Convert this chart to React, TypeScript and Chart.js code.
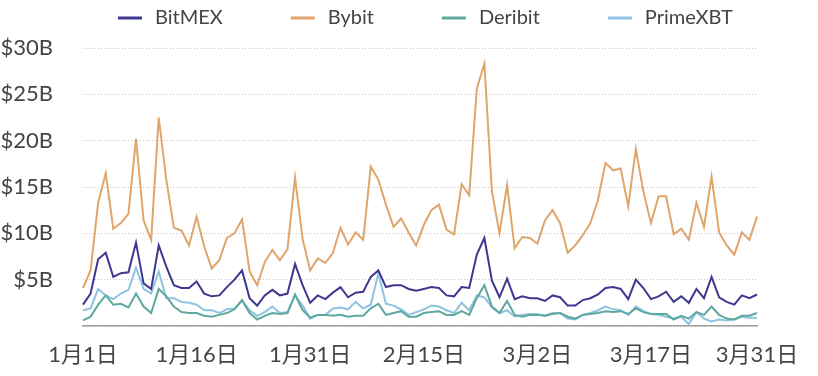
import React, { useEffect, useRef } from 'react';
import { Chart, registerables } from 'chart.js';

Chart.register(...registerables);

// Categories: daily dates, Jan 1 – Mar 31
const monthDays: [number, number][] = [[1, 31], [2, 28], [3, 31]];
const dates: string[] = [];
for (const [m, n] of monthDays) for (let d = 1; d <= n; d++) dates.push(`${m}月${d}日`);

// Shown tick labels
const shownTicks = ['1月1日', '1月16日', '1月31日', '2月15日', '3月2日', '3月17日', '3月31日'];

// Y axis ticks (billions USD)
const yTicks = [5, 10, 15, 20, 25, 30];

const seriesNames = ['BitMEX', 'Bybit', 'Deribit', 'PrimeXBT'];

const bitmex = [
  2.3, 3.5, 7.2, 7.9, 5.3, 5.7, 5.8, 9.0, 4.6, 4.0,
  8.7, 6.4, 4.4, 4.1, 4.1, 4.8, 3.5, 3.2, 3.3, 4.2,
  5.0, 6.0, 3.0, 2.2, 3.3, 3.9, 3.3, 3.5, 6.7, 4.4,
  2.5, 3.3, 2.9, 3.6, 4.2, 3.1, 3.6, 3.7, 5.3, 6.0,
  4.2, 4.4, 4.4, 4.0, 3.8, 4.0, 4.2, 4.1, 3.3, 3.2,
  4.2, 4.1, 7.7, 9.5, 4.9, 3.1, 5.1, 2.9, 3.2, 3.0,
  3.0, 2.7, 3.3, 3.1, 2.2, 2.2, 2.8, 3.0, 3.4, 4.1,
  4.2, 4.0, 2.9, 5.0, 4.1, 2.9, 3.2, 3.7, 2.6, 3.2,
  2.5, 4.0, 3.0, 5.3, 3.1, 2.6, 2.3, 3.3, 3.0, 3.4,
];

const bybit = [
  4.1, 6.0, 13.3, 16.5, 10.5, 11.1, 12.1, 20.2, 11.4, 9.3,
  22.5, 15.8, 10.6, 10.3, 8.7, 11.8, 8.6, 6.2, 7.1, 9.5,
  10.0, 11.5, 5.9, 4.4, 6.9, 8.2, 7.1, 8.3, 16.0, 9.4,
  6.0, 7.3, 6.8, 7.9, 10.6, 8.8, 10.1, 9.3, 17.2, 15.8,
  13.1, 10.7, 11.6, 10.1, 8.7, 10.9, 12.5, 13.1, 10.4, 9.9,
  15.3, 14.1, 25.6, 28.3, 14.5, 10.0, 15.2, 8.4, 9.6, 9.5,
  8.9, 11.4, 12.5, 11.1, 7.9, 8.7, 9.8, 11.1, 13.6, 17.6,
  16.8, 17.0, 12.9, 19.1, 14.5, 11.1, 14.0, 14.0, 9.9, 10.5,
  9.3, 13.3, 10.7, 16.1, 10.1, 8.7, 7.7, 10.1, 9.3, 11.8,
];

const deribit = [
  0.6, 1.0, 2.3, 3.3, 2.3, 2.4, 2.0, 3.5, 2.1, 1.4,
  4.0, 3.2, 2.1, 1.5, 1.4, 1.4, 1.1, 1.0, 1.2, 1.4,
  1.8, 2.8, 1.4, 0.7, 1.1, 1.4, 1.3, 1.4, 3.4, 1.7,
  0.9, 1.2, 1.2, 1.1, 1.2, 1.0, 1.1, 1.1, 1.9, 2.4,
  1.2, 1.4, 1.6, 1.0, 1.0, 1.4, 1.5, 1.6, 1.2, 1.2,
  1.6, 1.2, 3.0, 4.4, 2.1, 1.4, 2.7, 1.2, 1.0, 1.2,
  1.2, 1.1, 1.3, 1.4, 1.0, 0.8, 1.2, 1.3, 1.4, 1.6,
  1.5, 1.6, 1.3, 1.9, 1.5, 1.3, 1.3, 1.3, 0.7, 1.1,
  0.8, 1.5, 1.2, 2.1, 1.2, 0.8, 0.7, 1.1, 1.1, 1.4,
];

const primexbt = [
  1.7, 1.9, 4.0, 3.3, 2.9, 3.5, 3.9, 6.3, 4.0, 3.5,
  5.9, 3.0, 3.0, 2.6, 2.5, 2.3, 1.7, 1.7, 1.4, 1.8,
  1.9, 2.7, 1.7, 1.1, 1.5, 2.1, 1.4, 1.5, 3.3, 2.2,
  0.8, 1.2, 1.2, 1.9, 2.0, 1.8, 2.6, 1.9, 2.3, 5.7,
  2.4, 2.2, 1.8, 1.2, 1.5, 1.8, 2.2, 2.1, 1.7, 1.4,
  2.5, 1.7, 3.3, 3.1, 2.0, 1.4, 1.7, 1.0, 1.2, 1.3,
  1.3, 1.1, 1.4, 1.4, 0.8, 0.7, 1.2, 1.4, 1.7, 2.1,
  1.8, 1.7, 1.2, 2.1, 1.6, 1.3, 1.2, 1.0, 0.8, 1.0,
  0.2, 1.5, 0.8, 0.5, 0.7, 0.6, 0.7, 1.0, 0.9, 0.9,
];

const seriesValues = [bitmex, bybit, deribit, primexbt];
const seriesColors = ['#3d3790', '#dfa56c', '#5ea89f', '#8fc3e3'];

const FONT = 'Lato, "Noto Sans CJK SC", sans-serif';
const TEXT = '#444444';

const topLegend = {
  id: 'topLegend',
  afterDraw(chart: any) {
    const ctx = chart.ctx;
    ctx.save();
    ctx.font = `20px ${FONT}`;
    ctx.textBaseline = 'middle';
    ctx.textAlign = 'left';
    let x = chart.chartArea.left + 35;
    const y = 18;
    chart.data.datasets.forEach((ds: any) => {
      ctx.strokeStyle = ds.borderColor;
      ctx.lineWidth = 3;
      ctx.beginPath();
      ctx.moveTo(x, y);
      ctx.lineTo(x + 24, y);
      ctx.stroke();
      x += 24 + 13;
      ctx.fillStyle = TEXT;
      ctx.fillText(ds.label, x, y);
      x += ctx.measureText(ds.label).width + 68;
    });
    ctx.restore();
  },
};

export default function App() {
  const canvasRef = useRef<HTMLCanvasElement | null>(null);

  useEffect(() => {
    document.body.style.margin = '0';
    const canvas = canvasRef.current;
    if (!canvas) return;
    const chart = new Chart(canvas, {
      type: 'line',
      data: {
        labels: dates,
        datasets: seriesNames.map((name, i) => ({
          label: name,
          data: seriesValues[i],
          borderColor: seriesColors[i],
          backgroundColor: seriesColors[i],
          borderWidth: 2,
          pointRadius: 0,
          tension: 0,
          fill: false,
        })),
      },
      options: {
        animation: false,
        responsive: true,
        maintainAspectRatio: false,
        layout: { padding: { top: 48, left: 1, right: 61, bottom: 8 } },
        plugins: {
          legend: { display: false },
          tooltip: { enabled: false },
        },
        scales: {
          x: {
            grid: { display: false, drawTicks: false },
            border: { display: true, color: '#a0a0a0', width: 1.5 },
            afterFit: (scale: any) => {
              scale.height = 42;
            },
            ticks: {
              autoSkip: false,
              maxRotation: 0,
              padding: 16,
              color: TEXT,
              font: { family: FONT, size: 22 },
              callback: (_v: any, idx: number) =>
                shownTicks.includes(dates[idx]) ? dates[idx] : '',
            },
          },
          y: {
            min: 0,
            max: yTicks[yTicks.length - 1],
            grid: { color: '#c4c4c4', lineWidth: 1, drawTicks: false },
            border: { display: false, dash: [1, 2] },
            afterFit: (scale: any) => {
              scale.width = 82;
            },
            ticks: {
              stepSize: 5,
              padding: 30,
              color: TEXT,
              font: { family: FONT, size: 22 },
              callback: (v: any) => (yTicks.includes(Number(v)) ? `$${v}B` : ''),
            },
          },
        },
      },
      plugins: [topLegend],
    });
    return () => chart.destroy();
  }, []);

  return (
    <div style={{ position: 'relative', width: '818px', height: '376px' }}>
      <canvas ref={canvasRef} />
    </div>
  );
}
